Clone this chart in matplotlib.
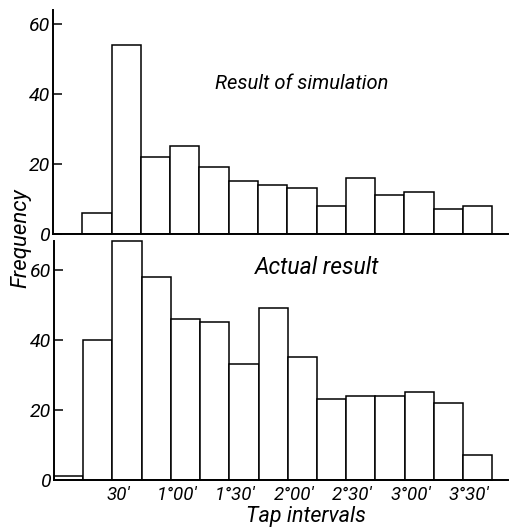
import matplotlib
matplotlib.use("Agg")
import matplotlib.pyplot as plt
import matplotlib.transforms as mtransforms

# Tap interval histograms: simulation (top) vs actual (bottom)

bin_starts = [0, 15, 30, 45, 60, 75, 90, 105, 120, 135, 150, 165, 180, 195, 210]  # minutes
bin_width = 15
sim_counts = [0, 6, 54, 22, 25, 19, 15, 14, 13, 8, 16, 11, 12, 7, 8]
actual_counts = [1, 40, 68, 58, 46, 45, 33, 49, 35, 23, 24, 24, 25, 22, 7]

x_ticks = [30, 60, 90, 120, 150, 180, 210]
x_tick_labels = ["30\u2032", "1°00\u2032", "1°30\u2032", "2°00\u2032", "2°30\u2032", "3°00\u2032", "3°30\u2032"]
y_ticks = [0, 20, 40, 60]

plt.rcParams["font.family"] = ["Liberation Sans Narrow", "DejaVu Sans Condensed", "Roboto", "DejaVu Sans"]
plt.rcParams["font.style"] = "italic"

fig = plt.figure(figsize=(5.14, 5.27), dpi=100)
ax_top = fig.add_axes([0.1031, 0.5560, 0.885, 0.4250])
ax_bot = fig.add_axes([0.1050, 0.0892, 0.883, 0.4526])


def style_axis(ax, ymax):
    for side in ("top", "right"):
        ax.spines[side].set_visible(False)
    for side in ("left", "bottom"):
        ax.spines[side].set_linewidth(1.4)
    ax.set_xlim(0, 233)
    ax.set_ylim(0, ymax)
    ax.set_yticks(y_ticks)
    ax.tick_params(axis="y", direction="in", length=6.5, width=1.1, pad=2, labelsize=14)
    ax.tick_params(axis="x", length=0)


ax_top.bar(bin_starts, sim_counts, width=bin_width, align="edge",
           facecolor="white", edgecolor="black", linewidth=1.1)
style_axis(ax_top, 64)
ax_top.set_xticks([])

ax_bot.bar(bin_starts, actual_counts, width=bin_width, align="edge",
           facecolor="white", edgecolor="black", linewidth=1.1, clip_on=False)
style_axis(ax_bot, 68)
ax_bot.set_xticks(x_ticks)
ax_bot.set_xticklabels(x_tick_labels, fontsize=13.5)
ax_bot.tick_params(axis="x", pad=4)

# labels in the original sit a little right of the bin edges
offset = mtransforms.ScaledTranslation(6 / 100, 0, fig.dpi_scale_trans)
for lbl in ax_bot.get_xticklabels():
    lbl.set_transform(lbl.get_transform() + offset)

fig.text(0.418, 0.8425, "Result of simulation", fontsize=14.5, va="center", ha="left")
fig.text(0.496, 0.4915, "Actual result", fontsize=16.5, va="center", ha="left")
fig.text(0.040, 0.548, "Frequency", fontsize=16, rotation=90, va="center", ha="center")
fig.text(0.595, 0.019, "Tap intervals", fontsize=15.5, va="center", ha="center")

fig.savefig("out.png", dpi=100, facecolor="white")
